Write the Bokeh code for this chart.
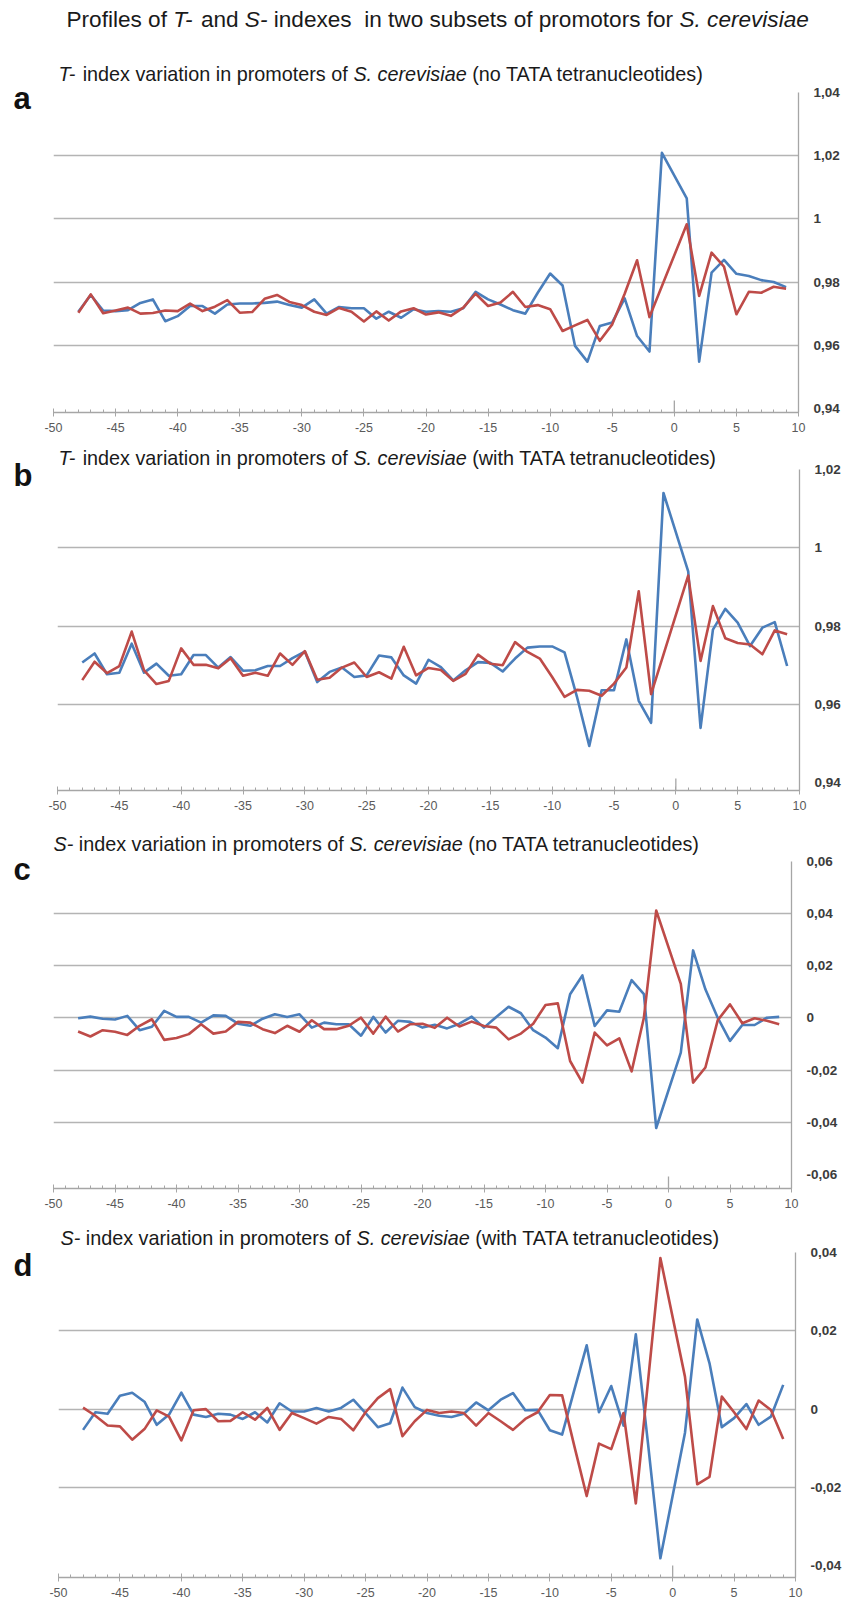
from bokeh.plotting import figure
from bokeh.layouts import column
from bokeh.models import Label, FixedTicker, Range1d, CustomJSTickFormatter, GridBox
from bokeh.embed import file_html
from bokeh.resources import INLINE

positions = [-48, -47, -46, -45, -44, -43, -42, -41, -40, -39, -38, -37, -36, -35, -34, -33,
             -32, -31, -30, -29, -28, -27, -26, -25, -24, -23, -22, -21, -20, -19, -18, -17,
             -16, -15, -14, -13, -12, -11, -10, -9, -8, -7, -6, -5, -4, -3, -2, -1,
             1, 2, 3, 4, 5, 6, 7, 8, 9]
# red T-index series have no value at position -1
positions_red_T = [p for p in positions if p != -1]

t_noTATA_blue = [0.9706, 0.9759, 0.9710, 0.9708, 0.9711, 0.9734, 0.9745, 0.9676, 0.9692, 0.9724,
                 0.9724, 0.9700, 0.9729, 0.9732, 0.9732, 0.9734, 0.9738, 0.9727, 0.9719, 0.9745,
                 0.9700, 0.9721, 0.9717, 0.9717, 0.9684, 0.9706, 0.9687, 0.9714, 0.9706, 0.9708,
                 0.9706, 0.9717, 0.9769, 0.9745, 0.9729, 0.9711, 0.9700, 0.9766, 0.9827, 0.9789,
                 0.9598, 0.9548, 0.9661, 0.9672, 0.9748, 0.9629, 0.9580, 1.0209,
                 1.0065, 0.9548, 0.9830, 0.9870, 0.9826, 0.9819, 0.9806, 0.9800, 0.9784]
t_noTATA_red = [0.9703, 0.9761, 0.9701, 0.9710, 0.9719, 0.9700, 0.9702, 0.9710, 0.9708, 0.9732,
                0.9708, 0.9722, 0.9743, 0.9703, 0.9705, 0.9747, 0.9759, 0.9737, 0.9727, 0.9706,
                0.9696, 0.9718, 0.9706, 0.9675, 0.9707, 0.9678, 0.9707, 0.9717, 0.9697, 0.9704,
                0.9693, 0.9719, 0.9763, 0.9724, 0.9735, 0.9769, 0.9721, 0.9727, 0.9714, 0.9645,
                0.9663, 0.9680, 0.9614, 0.9666, 0.9763, 0.9869, 0.9689,
                0.9983, 0.9756, 0.9893, 0.9849, 0.9698, 0.9769, 0.9766, 0.9785, 0.9779]
t_TATA_blue = [0.9707, 0.9730, 0.9677, 0.9681, 0.9755, 0.9681, 0.9704, 0.9673, 0.9677, 0.9726,
               0.9726, 0.9694, 0.9721, 0.9686, 0.9687, 0.9698, 0.9698, 0.9718, 0.9735, 0.9657,
               0.9683, 0.9694, 0.9670, 0.9674, 0.9725, 0.9720, 0.9674, 0.9653, 0.9714, 0.9695,
               0.9661, 0.9687, 0.9708, 0.9706, 0.9684, 0.9717, 0.9745, 0.9748, 0.9748, 0.9733,
               0.9620, 0.9494, 0.9636, 0.9636, 0.9766, 0.9609, 0.9553, 1.0140,
               0.9940, 0.9540, 0.9791, 0.9844, 0.9809, 0.9749, 0.9796, 0.9810, 0.9698]
t_TATA_red = [0.9662, 0.9709, 0.9680, 0.9698, 0.9786, 0.9687, 0.9652, 0.9660, 0.9743, 0.9701,
              0.9701, 0.9692, 0.9718, 0.9673, 0.9681, 0.9673, 0.9730, 0.9701, 0.9736, 0.9663,
              0.9668, 0.9694, 0.9707, 0.9670, 0.9682, 0.9666, 0.9747, 0.9674, 0.9693, 0.9688,
              0.9660, 0.9678, 0.9727, 0.9704, 0.9700, 0.9759, 0.9734, 0.9717, 0.9670, 0.9619,
              0.9637, 0.9635, 0.9622, 0.9653, 0.9694, 0.9889, 0.9626,
              0.9929, 0.9711, 0.9851, 0.9769, 0.9757, 0.9753, 0.9728, 0.9789, 0.9779]
s_noTATA_blue = [-0.0001, 0.0005, -0.0003, -0.0006, 0.0008, -0.0047, -0.0034, 0.0027, 0.0004, 0.0004,
                 -0.0018, 0.0010, 0.0008, -0.0022, -0.0030, -0.0003, 0.0014, 0.0004, 0.0014, -0.0037,
                 -0.0018, -0.0024, -0.0024, -0.0068, 0.0004, -0.0056, -0.0011, -0.0015, -0.0037, -0.0026,
                 -0.0040, -0.0022, 0.0005, -0.0037, 0.0004, 0.0043, 0.0018, -0.0047, -0.0075, -0.0116,
                 0.0091, 0.0163, -0.0031, 0.0029, 0.0024, 0.0145, 0.0091, -0.0422,
                 -0.0133, 0.0259, 0.0110, 0.0001, -0.0088, -0.0027, -0.0027, 0.0001, 0.0004]
s_noTATA_red = [-0.0052, -0.0071, -0.0047, -0.0053, -0.0065, -0.0030, -0.0005, -0.0084, -0.0077, -0.0062,
                -0.0024, -0.0060, -0.0052, -0.0015, -0.0018, -0.0043, -0.0058, -0.0030, -0.0053, -0.0009,
                -0.0043, -0.0043, -0.0030, 0.0001, -0.0060, 0.0005, -0.0052, -0.0024, -0.0022, -0.0038,
                0.0001, -0.0033, -0.0014, -0.0031, -0.0037, -0.0082, -0.0060, -0.0022, 0.0050, 0.0056,
                -0.0165, -0.0248, -0.0056, -0.0105, -0.0078, -0.0205, 0.0001, 0.0412,
                0.0131, -0.0248, -0.0190, -0.0009, 0.0052, -0.0020, -0.0001, -0.0011, -0.0024]
s_TATA_blue = [-0.0053, -0.0008, -0.0012, 0.0034, 0.0042, 0.0019, -0.0040, -0.0014, 0.0042, -0.0014,
               -0.0020, -0.0012, -0.0014, -0.0025, -0.0008, -0.0034, 0.0015, -0.0006, -0.0006, 0.0003,
               -0.0006, 0.0003, 0.0024, -0.0010, -0.0046, -0.0036, 0.0055, 0.0005, -0.0010, -0.0017,
               -0.0020, -0.0012, 0.0017, -0.0003, 0.0024, 0.0041, -0.0003, -0.0002, -0.0054, -0.0065,
               0.0050, 0.0163, -0.0008, 0.0059, -0.0042, 0.0191, -0.0090, -0.0381,
               -0.0061, 0.0229, 0.0117, -0.0046, -0.0023, 0.0013, -0.0040, -0.0019, 0.0062]
s_TATA_red = [0.0004, -0.0017, -0.0042, -0.0044, -0.0078, -0.0051, -0.0003, -0.0019, -0.0080, -0.0003,
              0.0000, -0.0031, -0.0030, -0.0008, -0.0027, 0.0003, -0.0053, -0.0010, -0.0023, -0.0037,
              -0.0020, -0.0025, -0.0054, -0.0008, 0.0028, 0.0051, -0.0069, -0.0031, -0.0002, -0.0010,
              -0.0006, -0.0010, -0.0042, -0.0010, -0.0031, -0.0053, -0.0025, -0.0008, 0.0036, 0.0035,
              -0.0095, -0.0222, -0.0088, -0.0102, -0.0010, -0.0241, 0.0073, 0.0386,
              0.0083, -0.0192, -0.0173, 0.0032, -0.0008, -0.0051, 0.0022, -0.0002, -0.0076]

x_ticks = [-50, -45, -40, -35, -30, -25, -20, -15, -10, -5, 0, 5, 10]
x_tick_labels = ["-50", "-45", "-40", "-35", "-30", "-25", "-20", "-15", "-10", "-5", "0", "5", "10"]
x_minor_ticks = list(range(-50, 11))
t_a_ticks = [0.94, 0.96, 0.98, 1.0, 1.02, 1.04]
t_a_labels = ["0,94", "0,96", "0,98", "1", "1,02", "1,04"]
t_b_ticks = [0.94, 0.96, 0.98, 1.0, 1.02]
t_b_labels = ["0,94", "0,96", "0,98", "1", "1,02"]
s_c_ticks = [-0.06, -0.04, -0.02, 0.0, 0.02, 0.04, 0.06]
s_c_labels = ["-0,06", "-0,04", "-0,02", "0", "0,02", "0,04", "0,06"]
s_d_ticks = [-0.04, -0.02, 0.0, 0.02, 0.04]
s_d_labels = ["-0,04", "-0,02", "0", "0,02", "0,04"]

main_title = [("Profiles of ", False), ("T-", True), (" and ", False), ("S-", True),
              (" indexes ", False), (" in two subsets of promotors for ", False), ("S. cerevisiae", True)]
panel_titles = [
    [("T-", True), (" index variation in promoters of ", False), ("S. cerevisiae", True), (" (no TATA tetranucleotides)", False)],
    [("T-", True), (" index variation in promoters of ", False), ("S. cerevisiae", True), (" (with TATA tetranucleotides)", False)],
    [("S-", True), (" index variation in promoters of ", False), ("S. cerevisiae", True), (" (no TATA tetranucleotides)", False)],
    [("S-", True), (" index variation in promoters of ", False), ("S. cerevisiae", True), (" (with TATA tetranucleotides)", False)],
]
panel_letters = ["a", "b", "c", "d"]

# ---------------- style / layout ----------------
BLUE = "#4a7ebb"
RED = "#be4b48"
GRID = "#b4b4b4"
AXIS = "#a6a6a6"
FONT = "Liberation Sans"
W, H = 845, 1603

ARIAL_W = {' ': 278, '!': 278, '(': 333, ')': 333, '-': 333, '.': 278, ',': 278,
           'A': 667, 'B': 667, 'C': 722, 'D': 722, 'E': 667, 'F': 611, 'G': 778, 'H': 722, 'I': 278,
           'J': 500, 'K': 667, 'L': 556, 'M': 833, 'N': 722, 'O': 778, 'P': 667, 'Q': 778, 'R': 722,
           'S': 667, 'T': 611, 'U': 722, 'V': 667, 'W': 944, 'X': 667, 'Y': 667, 'Z': 611,
           'a': 556, 'b': 556, 'c': 500, 'd': 556, 'e': 556, 'f': 278, 'g': 556, 'h': 556, 'i': 222,
           'j': 222, 'k': 500, 'l': 222, 'm': 833, 'n': 556, 'o': 556, 'p': 556, 'q': 556, 'r': 333,
           's': 500, 't': 278, 'u': 556, 'v': 500, 'w': 722, 'x': 500, 'y': 500, 'z': 500}


def tw(s, size):
    return sum(ARIAL_W.get(c, 556) for c in s) * size / 1000.0


def lookup_formatter(vals, labs):
    return CustomJSTickFormatter(args=dict(vals=vals, labs=labs), code="""
        let best = 0, bd = Infinity;
        for (let i = 0; i < vals.length; i++) {
            const d = Math.abs(vals[i] - tick);
            if (d < bd) { bd = d; best = i; }
        }
        return labs[best];
    """)


def make_panel(fig_h, fl, fr, ft, fbb, ystart, yend, ticks, labels, grid_vals, bx, by, rx, ry):
    frame_h = fig_h - ft - fbb
    p = figure(width=W, height=fig_h, x_range=Range1d(-50, 10), y_range=Range1d(ystart, yend),
               output_backend="svg", toolbar_location=None, title=None, y_axis_location="right",
               min_border_left=fl, min_border_right=W - fr, min_border_top=ft, min_border_bottom=fbb,
               frame_align=False)
    p.outline_line_color = None
    p.background_fill_color = "white"
    p.border_fill_color = "white"
    p.xgrid.visible = False
    p.ygrid.ticker = FixedTicker(ticks=grid_vals)
    p.ygrid.grid_line_color = GRID
    p.ygrid.grid_line_width = 1.3

    xa = p.xaxis[0]
    xa.ticker = FixedTicker(ticks=x_ticks, minor_ticks=x_minor_ticks)
    xa.formatter = lookup_formatter(x_ticks, x_tick_labels)
    xa.axis_line_color = AXIS
    xa.axis_line_width = 1.3
    xa.major_tick_line_color = AXIS
    xa.minor_tick_line_color = AXIS
    xa.major_tick_in = 4
    xa.major_tick_out = 4
    xa.minor_tick_in = 3
    xa.minor_tick_out = 0
    xa.major_label_standoff = 6
    xa.major_label_text_font = FONT
    xa.major_label_text_font_size = "12.5px"
    xa.major_label_text_color = "#5a5a5a"

    ya = p.yaxis[0]
    ya.ticker = FixedTicker(ticks=ticks)
    ya.formatter = lookup_formatter(ticks, labels)
    ya.axis_line_color = AXIS
    ya.axis_line_width = 1.3
    ya.major_tick_in = 0
    ya.major_tick_out = 0
    ya.minor_tick_in = 0
    ya.minor_tick_out = 0
    ya.major_label_standoff = 15
    ya.major_label_text_font = FONT
    ya.major_label_text_font_size = "13.5px"
    ya.major_label_text_font_style = "bold"
    ya.major_label_text_color = "#3c3c3c"

    # taller tick where the vertical axis would cross (x = 0)
    p.segment(x0=[0], y0=[ystart], x1=[0], y1=[ystart + 12 * (yend - ystart) / frame_h],
              line_color=AXIS, line_width=1.3)

    p.line(bx, by, line_color=BLUE, line_width=2.6, line_join="round")
    p.line(rx, ry, line_color=RED, line_width=2.6, line_join="round")
    return p


pa = make_panel(442, 53, 798, 92, 30, 0.9387, 1.04, t_a_ticks, t_a_labels, t_a_ticks[1:],
                positions, t_noTATA_blue, positions_red_T, t_noTATA_red)
pb = make_panel(383, 57, 799, 27, 35, 0.938, 1.02, t_b_ticks, t_b_labels, t_b_ticks[1:],
                positions, t_TATA_blue, positions_red_T, t_TATA_red)
pc = make_panel(393, 53, 791, 36, 30, -0.0654, 0.06, s_c_ticks, s_c_labels, s_c_ticks[1:],
                positions, s_noTATA_blue, positions, s_noTATA_red)
pd_ = make_panel(385, 58, 795, 34, 26, -0.043, 0.04, s_d_ticks, s_d_labels, s_d_ticks[1:],
                 positions, s_TATA_blue, positions, s_TATA_red)

plots = column(pa, pb, pc, pd_, spacing=0)

# ---- transparent full-page text layer (page pixel coordinates, y downwards) ----
tx = figure(width=W, height=H, x_range=Range1d(0, W), y_range=Range1d(H, 0),
            output_backend="svg", toolbar_location=None, title=None,
            x_axis_location=None, y_axis_location=None,
            min_border_left=0, min_border_right=0, min_border_top=0, min_border_bottom=0)
tx.outline_line_color = None
tx.background_fill_color = None
tx.border_fill_color = None
tx.grid.visible = False


def add_rich_text(pieces, cx, cy, size, color="#1a1a1a"):
    x = cx
    for txt, ital in pieces:
        lead = len(txt) - len(txt.lstrip(" "))
        s = txt.strip(" ")
        if s:
            tx.add_layout(Label(x=x + tw(" " * lead, size), y=cy, text=s, text_font=FONT,
                                text_font_size=f"{size}px",
                                text_font_style="italic" if ital else "normal",
                                text_color=color, text_align="left", text_baseline="alphabetic"))
        x += tw(txt, size)


add_rich_text(main_title, 66, 19, 22.6)
title_pos = [(58, 73), (58, 457), (53, 843), (60, 1237)]
letter_base = [98, 475, 869, 1265]
for i in range(4):
    add_rich_text(panel_titles[i], title_pos[i][0], title_pos[i][1], 19.8)
    tx.add_layout(Label(x=13, y=letter_base[i], text=panel_letters[i], text_font=FONT,
                        text_font_size="31px", text_font_style="bold", text_color="#111111",
                        text_align="left", text_baseline="alphabetic"))

page = GridBox(children=[(plots, 0, 0), (tx, 0, 0)])
open("out.html", "w").write(file_html(page, INLINE))
